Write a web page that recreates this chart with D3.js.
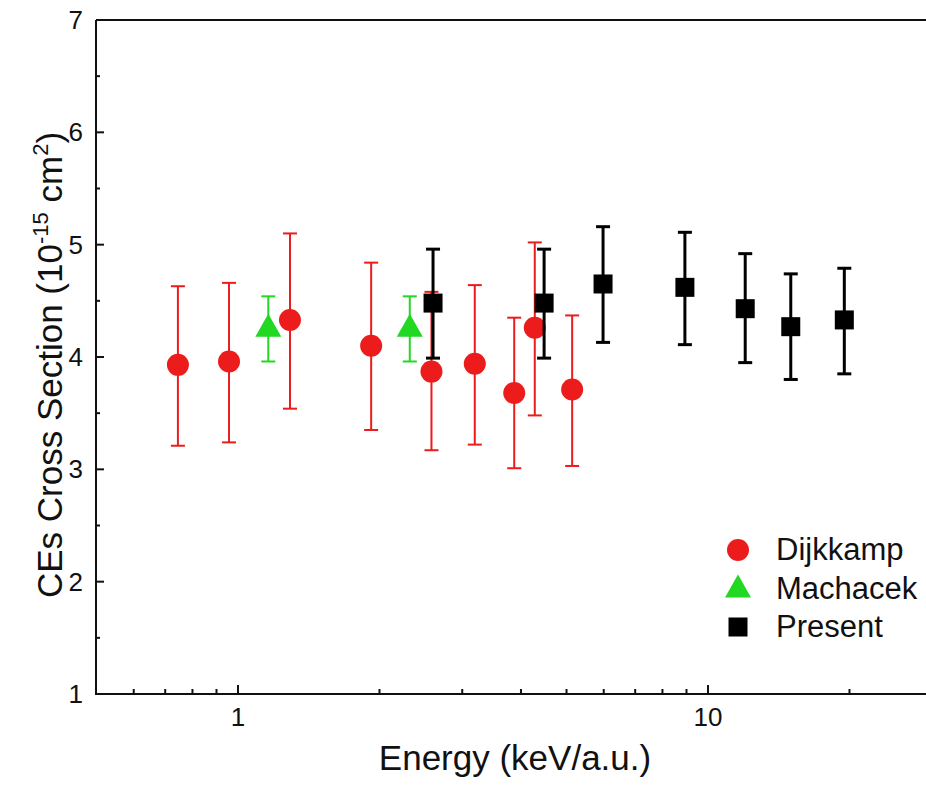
<!DOCTYPE html>
<html lang="en">
<head>
  <meta charset="UTF-8">
  <title>CEs Cross Section</title>
  <script src="https://d3js.org/d3.v7.min.js"></script>
  <style>
    body { margin: 0; background: #fff; font-family: Arial, "Liberation Sans", sans-serif; }
    svg { display: block; }
  </style>
</head>
<body>
  <svg id="chart" width="926" height="785"></svg>
  <script>
    // energy (keV/a.u.), cross section (1e-15 cm^2), error bar low/high
    const dijkEnergy = [0.745, 0.957, 1.29, 1.92, 2.58, 3.19, 3.87, 4.28, 5.14];
    const dijkValue  = [3.93, 3.96, 4.33, 4.10, 3.87, 3.94, 3.68, 4.26, 3.71];
    const dijkLow    = [3.21, 3.24, 3.54, 3.35, 3.17, 3.22, 3.01, 3.48, 3.03];
    const dijkHigh   = [4.63, 4.66, 5.10, 4.84, 4.58, 4.64, 4.35, 5.02, 4.37];

    const machEnergy = [1.16, 2.32];
    const machValue  = [4.26, 4.26];
    const machLow    = [3.96, 3.96];
    const machHigh   = [4.54, 4.54];

    const presEnergy = [2.60, 4.48, 5.98, 8.93, 12.0, 15.0, 19.5];
    const presValue  = [4.48, 4.48, 4.65, 4.62, 4.43, 4.27, 4.33];
    const presLow    = [3.99, 3.99, 4.13, 4.11, 3.95, 3.80, 3.85];
    const presHigh   = [4.96, 4.96, 5.16, 5.11, 4.92, 4.74, 4.79];

    const yTicks = [1, 2, 3, 4, 5, 6, 7];
    const xLabelTicks = [1, 10];

    const svg = d3.select("#chart");
    const plotLeft = 96, plotTop = 20, plotBottom = 694;

    // 1 -> 238, 10 -> 708
    const x = d3.scaleLog().domain([1, 10]).range([238, 708]);
    const xMin = 0.5, xMax = 30;
    const y = d3.scaleLinear().domain([1, 7]).range([plotBottom, plotTop]);
    const plotRight = x(xMax);

    const series = [
      { name: "Dijkkamp", color: "#ec1c1c", shape: "circle", ex: dijkEnergy, v: dijkValue, lo: dijkLow, hi: dijkHigh, lw: 2 },
      { name: "Machacek", color: "#22d822", shape: "triangle", ex: machEnergy, v: machValue, lo: machLow, hi: machHigh, lw: 2 },
      { name: "Present", color: "#000000", shape: "square", ex: presEnergy, v: presValue, lo: presLow, hi: presHigh, lw: 3 }
    ];

    function marker(g, shape, color) {
      if (shape === "circle") {
        g.append("circle").attr("r", 11).attr("fill", color);
      } else if (shape === "triangle") {
        g.append("path").attr("d", "M0,-14 L13,9 L-13,9 Z").attr("fill", color);
      } else {
        g.append("rect").attr("x", -9.5).attr("y", -9.5).attr("width", 19).attr("height", 19).attr("fill", color);
      }
    }

    // axes lines
    const axes = svg.append("g").attr("stroke", "#111").attr("stroke-width", 2);
    axes.append("line").attr("x1", plotLeft).attr("x2", plotLeft).attr("y1", plotTop).attr("y2", plotBottom + 1);
    axes.append("line").attr("x1", plotLeft).attr("x2", plotRight).attr("y1", plotBottom).attr("y2", plotBottom);
    axes.append("line").attr("x1", plotLeft).attr("x2", plotRight).attr("y1", plotTop).attr("y2", plotTop);

    // y ticks (inward) and labels
    const yMinor = d3.range(1.5, 7, 1);
    axes.selectAll(".ymaj").data(yTicks.slice(1, -1)).join("line")
      .attr("x1", plotLeft).attr("x2", plotLeft + 8).attr("y1", d => y(d)).attr("y2", d => y(d));
    axes.selectAll(".ymin").data(yMinor).join("line")
      .attr("x1", plotLeft).attr("x2", plotLeft + 4).attr("y1", d => y(d)).attr("y2", d => y(d));
    svg.selectAll(".ylab").data(yTicks).join("text")
      .attr("x", plotLeft - 13).attr("y", d => y(d) + 9)
      .attr("text-anchor", "end").attr("font-size", 26).attr("fill", "#111")
      .text(d => d);

    // x ticks (inward) and labels
    const xTickVals = x.copy().domain([xMin, xMax]).ticks().filter(d => d > xMin && d < xMax);
    axes.selectAll(".xt").data(xTickVals).join("line")
      .attr("x1", d => x(d)).attr("x2", d => x(d))
      .attr("y1", plotBottom).attr("y2", d => xLabelTicks.includes(d) ? plotBottom - 9 : plotBottom - 5);
    svg.selectAll(".xlab").data(xLabelTicks).join("text")
      .attr("x", d => x(d)).attr("y", 726)
      .attr("text-anchor", "middle").attr("font-size", 26).attr("fill", "#111")
      .text(d => d);

    // axis titles
    svg.append("text").attr("x", 515).attr("y", 770)
      .attr("text-anchor", "middle").attr("font-size", 35).attr("fill", "#111")
      .text("Energy (keV/a.u.)");
    const yt = svg.append("text")
      .attr("transform", "translate(62,365) rotate(-90)")
      .attr("text-anchor", "middle").attr("font-size", 35).attr("fill", "#111");
    yt.append("tspan").text("CEs Cross Section (10");
    yt.append("tspan").attr("font-size", 22).attr("dy", -14).text("-15");
    yt.append("tspan").attr("dy", 14).text(" cm");
    yt.append("tspan").attr("font-size", 22).attr("dy", -14).text("2");
    yt.append("tspan").attr("dy", 14).text(")");

    // data
    series.forEach(s => {
      const g = svg.append("g");
      s.ex.forEach((e, i) => {
        const cx = x(e);
        const eb = g.append("g").attr("stroke", s.color).attr("stroke-width", s.lw);
        eb.append("line").attr("x1", cx).attr("x2", cx).attr("y1", y(s.lo[i])).attr("y2", y(s.hi[i]));
        eb.append("line").attr("x1", cx - 7).attr("x2", cx + 7).attr("y1", y(s.lo[i])).attr("y2", y(s.lo[i]));
        eb.append("line").attr("x1", cx - 7).attr("x2", cx + 7).attr("y1", y(s.hi[i])).attr("y2", y(s.hi[i]));
        marker(g.append("g").attr("transform", `translate(${cx},${y(s.v[i])})`), s.shape, s.color);
      });
    });

    // legend
    const legend = svg.append("g").attr("transform", "translate(738,550)");
    series.forEach((s, i) => {
      const row = legend.append("g").attr("transform", `translate(0,${i * 38.5})`);
      marker(row.append("g"), s.shape, s.color);
      row.append("text").attr("x", 38).attr("y", 10)
        .attr("font-size", 31).attr("fill", "#111").text(s.name);
    });
  </script>
</body>
</html>
